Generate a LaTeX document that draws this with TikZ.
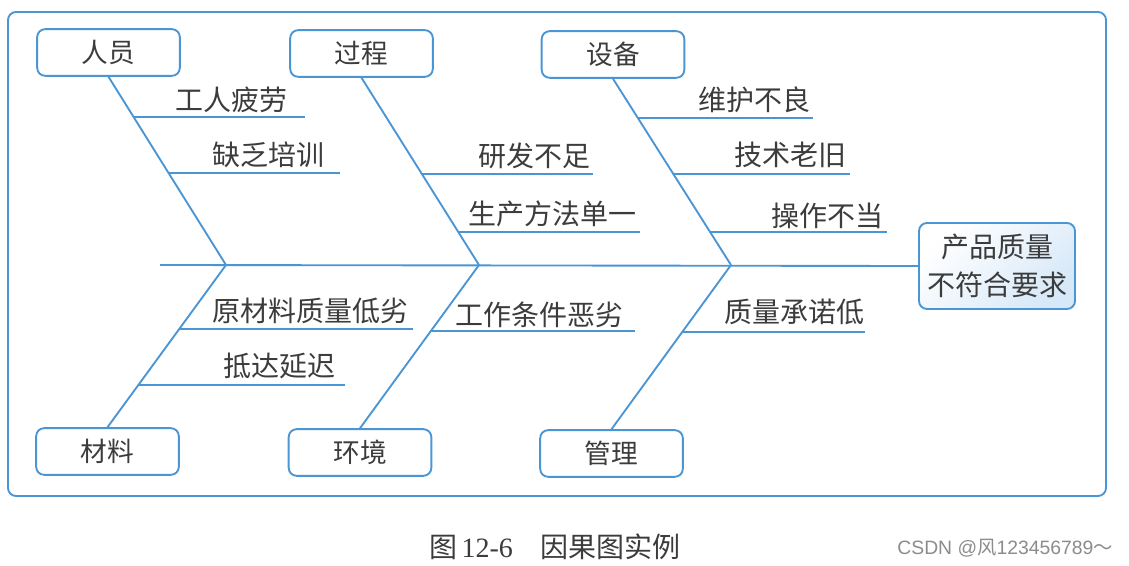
\documentclass[tikz,border=0pt]{standalone}
\usepackage{fontspec}
\setmainfont{Liberation Serif}
\newfontfamily\cjk{Noto Sans CJK SC}
\newfontfamily\wmfont{Liberation Sans}
\usetikzlibrary{calc}
\definecolor{fb}{RGB}{74,150,212}
\definecolor{tx}{RGB}{60,60,60}
\definecolor{lb}{RGB}{215,232,248}
\begin{document}
\begin{tikzpicture}[x=0.75pt,y=-0.75pt,
  bone/.style={draw=fb,line width=1.4pt},
  catbox/.style={draw=fb,line width=1.4pt,rounded corners=6pt,minimum width=107pt,minimum height=35pt,inner sep=0pt,font=\cjk\fontsize{20}{24}\selectfont,text=tx},
  lbl/.style={font=\cjk\fontsize{21}{24}\selectfont,text=tx,inner sep=0pt}]
\useasboundingbox (0,0) rectangle (1129,566);
\fill[white] (0,0) rectangle (1129,566);
% frame
\draw[bone,rounded corners=6pt] (8,12) rectangle (1106,496);
% category boxes
\node[catbox] (ry) at (108.5,52.5) {人员};
\node[catbox] (gc) at (361.5,53.5) {过程};
\node[catbox] (sb) at (613,54.5) {设备};
\node[catbox] (cl) at (107.5,451.5) {材料};
\node[catbox] (hj) at (360,452.5) {环境};
\node[catbox] (gl) at (611.5,453.5) {管理};
% effect
\node[draw=fb,line width=1.4pt,rounded corners=6pt,minimum width=117pt,minimum height=64.5pt,inner sep=0pt,
  left color=white,right color=lb,shading angle=45,
  align=center,font=\cjk\fontsize{21}{29}\selectfont,text=tx] (eff) at (997,266) {产品质量\\不符合要求};
% joints
\coordinate (j1) at (226,265);
\coordinate (j2) at (479,265);
\coordinate (j3) at (731,265);
\coordinate (tail) at (160,265);
% spine
\draw[bone] (tail) -- (eff.west);
% bones
\draw[bone] (ry.south) -- (j1);
\draw[bone] (gc.south) -- (j2);
\draw[bone] (sb.south) -- (j3);
\draw[bone] (cl.north) -- (j1);
\draw[bone] (hj.north) -- (j2);
\draw[bone] (gl.north) -- (j3);
% rib end coordinates
\coordinate (e1) at (305,0);
\coordinate (e2) at (340,0);
\coordinate (e3) at (593,0);
\coordinate (e4) at (640,0);
\coordinate (e5) at (813,0);
\coordinate (e6) at (850,0);
\coordinate (e7) at (887,0);
\coordinate (e8) at (413,0);
\coordinate (e9) at (345,0);
\coordinate (e10) at (635,0);
\coordinate (e11) at (865,0);
% rib start coordinates on bones
\coordinate (r1) at ($(ry.south)!0.213!(j1)$);
\coordinate (r2) at ($(ry.south)!0.511!(j1)$);
\coordinate (r3) at ($(gc.south)!0.513!(j2)$);
\coordinate (r4) at ($(gc.south)!0.824!(j2)$);
\coordinate (r5) at ($(sb.south)!0.209!(j3)$);
\coordinate (r6) at ($(sb.south)!0.513!(j3)$);
\coordinate (r7) at ($(sb.south)!0.824!(j3)$);
\coordinate (r8) at ($(cl.north)!0.604!(j1)$);
\coordinate (r9) at ($(cl.north)!0.262!(j1)$);
\coordinate (r10) at ($(hj.north)!0.594!(j2)$);
\coordinate (r11) at ($(gl.north)!0.594!(j3)$);
% ribs
\foreach \i in {1,...,11} {\draw[bone] (r\i) -- (r\i -| e\i);}
% labels
\node[lbl] (t1) at (231.5,100) {工人疲劳};
\node[lbl] (t2) at (268.5,155) {缺乏培训};
\node[lbl] (t3) at (534.5,156) {研发不足};
\node[lbl] (t4) at (552.5,214) {生产方法单一};
\node[lbl] (t5) at (754.5,100) {维护不良};
\node[lbl] (t6) at (790.5,155) {技术老旧};
\node[lbl] (t7) at (827.5,216) {操作不当};
\node[lbl] (t8) at (310.5,311) {原材料质量低劣};
\node[lbl] (t9) at (279,366) {抵达延迟};
\node[lbl] (t10) at (539.5,315) {工作条件恶劣};
\node[lbl] (t11) at (794.5,312) {质量承诺低};
% caption
\node[inner sep=0pt,text=tx,font=\fontsize{21}{24}\selectfont] (cap) at (555,547) {{\cjk 图}\,12-6\hspace{1em}{\cjk 因果图实例}};
% watermark
\node[inner sep=0pt,text=black!45,font=\wmfont\fontsize{14.5}{16}\selectfont] (wm) at (1005,548) {CSDN @{\cjk 风}123456789{\cjk ～}};
\end{tikzpicture}
\end{document}
